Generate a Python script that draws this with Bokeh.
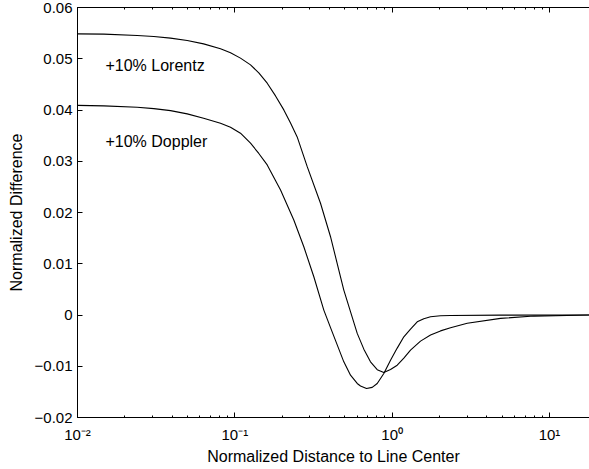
from bokeh.plotting import figure
from bokeh.models import (LogAxis, FixedTicker, CustomJSTickFormatter, Label,
                          Range1d, LogTicker)
from bokeh.embed import file_html
from bokeh.resources import INLINE

# ---- data ----
lorentz_x = [0.01, 0.0147, 0.02396, 0.03055, 0.03901, 0.04982, 0.0633,
             0.08108, 0.09386, 0.1086, 0.1258, 0.1420, 0.1606, 0.1814,
             0.2048, 0.2259, 0.2490, 0.2884, 0.3503, 0.4056, 0.4694, 0.4927,
             0.5995, 0.6604, 0.7281, 0.8034, 0.8848, 0.9759, 1.0764, 1.186,
             1.3078, 1.514, 1.753, 2.028, 2.349, 2.999, 4.883, 7.949, 17.95]
lorentz_y = [0.05486, 0.0548, 0.05453, 0.05434, 0.05402, 0.05355, 0.0529,
             0.05195, 0.05115, 0.05012, 0.04881, 0.04725, 0.04523, 0.04275,
             0.04002, 0.03748, 0.03475, 0.02895, 0.0218, 0.01527, 0.00746,
             0.00486, -0.00359, -0.00666, -0.00914, -0.01066, -0.01121,
             -0.01063, -0.00979, -0.00842, -0.00686, -0.0051, -0.0039,
             -0.0031, -0.0025, -0.0016, -0.00066, -0.00021, 0.0]

doppler_x = [0.01, 0.0147, 0.02396, 0.03055, 0.03901, 0.04982, 0.0633,
             0.08108, 0.09386, 0.1086, 0.1258, 0.1420, 0.1606, 0.1952,
             0.2370, 0.2744, 0.3177, 0.3677, 0.4056, 0.4927, 0.5435, 0.5995,
             0.6290, 0.6869, 0.7465, 0.8034, 0.8848, 0.9759, 1.0764, 1.186,
             1.3078, 1.4426, 1.589, 1.753, 2.028, 2.349, 4.883, 17.95]
doppler_y = [0.0409, 0.0408, 0.04055, 0.04027, 0.03988, 0.03924, 0.0384,
             0.03742, 0.03664, 0.03547, 0.03352, 0.03152, 0.02928, 0.0244,
             0.01854, 0.01332, 0.00746, 0.00096, -0.00246, -0.00914,
             -0.01174, -0.01336, -0.01385, -0.01434, -0.01412, -0.01336,
             -0.01141, -0.00881, -0.00646, -0.00426, -0.00275, -0.00133,
             -0.00072, -0.00035, -0.00016, -0.0001, -0.00002, 0.0]

y_ticks = [-0.02, -0.01, 0.0, 0.01, 0.02, 0.03, 0.04, 0.05, 0.06]
labels = ["+10% Lorentz", "+10% Doppler"]

FONT = "Liberation Sans"

p = figure(width=589, height=469, x_axis_type="log",
           x_range=Range1d(0.01, 17.95), y_range=Range1d(-0.02, 0.06),
           output_backend="svg", toolbar_location=None,
           min_border_left=77, min_border_right=0, min_border_top=7,
           min_border_bottom=52, background_fill_color="white",
           border_fill_color="white")
p.outline_line_color = None
p.xgrid.visible = False
p.ygrid.visible = False

p.line(lorentz_x, lorentz_y, line_color="black", line_width=1.1,
       line_join="round")
p.line(doppler_x, doppler_y, line_color="black", line_width=1.1,
       line_join="round")

SUP_CODE = """
const e = Math.round(Math.log10(tick));
const m = {'-':'\\u207b','0':'\\u2070','1':'\\u00b9','2':'\\u00b2','3':'\\u00b3'};
return '10' + String(e).split('').map(c => m[c]).join('');
"""

xa = p.xaxis[0]
xa.ticker = LogTicker(num_minor_ticks=10)
xa.formatter = CustomJSTickFormatter(code=SUP_CODE)
xa.axis_label = "Normalized Distance to Line Center"

ya = p.yaxis[0]
ya.ticker = FixedTicker(ticks=y_ticks)
ya.formatter = CustomJSTickFormatter(code="""
if (Math.abs(tick) < 1e-9) return '0';
return (tick < 0 ? '\\u2212' : '') + Math.abs(tick).toFixed(2);
""")
ya.axis_label = "Normalized Difference"

top = LogAxis(ticker=LogTicker(num_minor_ticks=10),
              formatter=CustomJSTickFormatter(code="return '';"))
top.major_label_text_font_size = "1px"
top.major_label_standoff = 0
p.add_layout(top, "above")

for ax in [xa, ya, top]:
    ax.axis_line_color = "black"
    ax.axis_line_width = 1
    ax.major_tick_line_color = "black"
    ax.minor_tick_line_color = "black"
    ax.major_tick_in = 5
    ax.major_tick_out = 0
    ax.minor_tick_in = 2
    ax.minor_tick_out = 0
    ax.major_label_text_font = FONT
    ax.major_label_text_color = "black"
    ax.axis_label_text_font = FONT
    ax.axis_label_text_font_style = "normal"
    ax.axis_label_text_color = "black"
    ax.axis_label_text_font_size = "16px"

ya.minor_tick_line_color = None
xa.major_label_text_font_size = "15px"
ya.major_label_text_font_size = "15px"
xa.major_label_standoff = 8
ya.major_label_standoff = 5
xa.axis_label_standoff = 2
ya.axis_label_standoff = 7

p.add_layout(Label(x=0.01506, y=0.04867, text=labels[0], text_font=FONT,
                   text_font_size="16px", text_color="black",
                   text_baseline="alphabetic"))
p.add_layout(Label(x=0.01506, y=0.03377, text=labels[1], text_font=FONT,
                   text_font_size="16px", text_color="black",
                   text_baseline="alphabetic"))

open("out.html", "w").write(file_html(p, INLINE))
